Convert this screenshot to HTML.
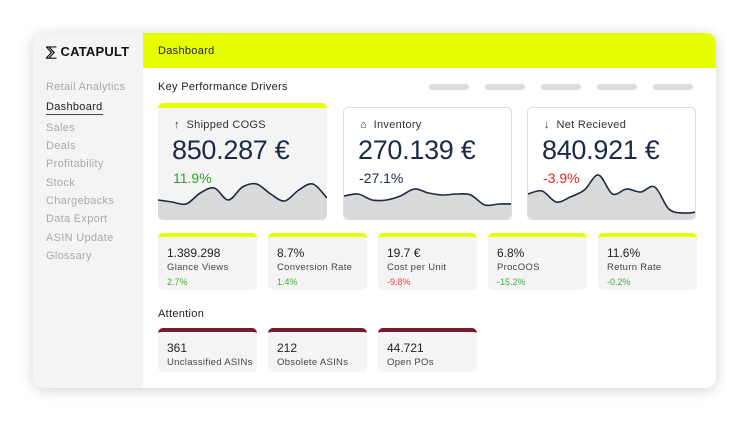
<!DOCTYPE html>
<html><head><meta charset="utf-8"><style>
*{box-sizing:border-box;margin:0;padding:0}
body{width:750px;height:422px;background:#fff;font-family:"Liberation Sans",sans-serif;position:relative;overflow:hidden;color:#222}
.abs{position:absolute}
#app{left:33px;top:33px;width:683px;height:355px;border-radius:10px;background:#fff;box-shadow:0 2px 14px rgba(0,0,0,.18);overflow:hidden}
#side{left:0;top:0;width:110px;height:355px;background:#f4f4f4}
#hdr{left:110px;top:0;width:573px;height:35px;background:#e5ff00}
.nav{position:absolute;left:13px;font-size:11px;color:#aaa;letter-spacing:.3px}
.kpi{position:absolute;top:74px;width:169px;height:113px;border-radius:5px;overflow:hidden}
.kpi .t{position:absolute;left:16px;top:11px;font-size:11px;color:#333;letter-spacing:.3px}
.kpi .v{position:absolute;left:14px;top:27px;font-size:27px;color:#1c2a48;letter-spacing:-.3px}
.kpi .p{position:absolute;left:15px;top:62px;font-size:14px}
.sm{position:absolute;width:99px;background:#f4f4f4;border-radius:5px;overflow:hidden}
.sm .v{position:absolute;left:9px;top:9px;font-size:12px;color:#222}
.sm .l{position:absolute;left:9px;top:25px;font-size:9.5px;color:#444;letter-spacing:.3px}
.sm .p{position:absolute;left:9px;top:40px;font-size:9px}
.pill{position:absolute;top:51px;width:40px;height:6px;border-radius:3px;background:#ddd}
</style></head><body>
<div id="app" class="abs">
 <div id="side" class="abs">
  <div class="abs" style="left:13px;top:11px;font-size:13px;font-weight:bold;color:#111;letter-spacing:.2px">⅀ CATAPULT</div>
  <div class="nav" style="top:48px">Retail Analytics</div>
  <div class="nav" style="top:68px;color:#222;border-bottom:1px solid #444;padding-bottom:1px">Dashboard</div>
  <div class="nav" style="top:89px">Sales</div>
  <div class="nav" style="top:107px">Deals</div>
  <div class="nav" style="top:125px">Profitability</div>
  <div class="nav" style="top:144px">Stock</div>
  <div class="nav" style="top:162px">Chargebacks</div>
  <div class="nav" style="top:180px">Data Export</div>
  <div class="nav" style="top:199px">ASIN Update</div>
  <div class="nav" style="top:217px">Glossary</div>
 </div>
 <div id="hdr" class="abs"><div class="abs" style="left:15px;top:12px;font-size:11px;color:#222;letter-spacing:.3px">Dashboard</div></div>
 <div class="abs" style="left:125px;top:48px;font-size:11px;color:#222;letter-spacing:.3px">Key Performance Drivers</div>
 <div class="pill" style="left:396px"></div>
 <div class="pill" style="left:452px"></div>
 <div class="pill" style="left:508px"></div>
 <div class="pill" style="left:564px"></div>
 <div class="pill" style="left:620px"></div>

 <div class="kpi" style="left:125px;top:70px;height:117px;background:#f4f4f4;border-top:5px solid #e5ff00">
  <div class="t">↑&nbsp; Shipped COGS</div>
  <div class="v">850.287 €</div>
  <div class="p" style="color:#2aa52a">11.9%</div>
  <svg id="sp0" class="abs" style="left:0;bottom:0" width="169" height="50"></svg>
 </div>
 <div class="kpi" style="left:310px;border:1px solid #ddd;background:#fff">
  <div class="t">⌂&nbsp; Inventory</div>
  <div class="v">270.139 €</div>
  <div class="p" style="color:#1c2a48">-27.1%</div>
  <svg id="sp1" class="abs" style="left:0;bottom:0" width="169" height="50"></svg>
 </div>
 <div class="kpi" style="left:494px;border:1px solid #ddd;background:#fff">
  <div class="t">↓&nbsp; Net Recieved</div>
  <div class="v">840.921 €</div>
  <div class="p" style="color:#f01e1e">-3.9%</div>
  <svg id="sp2" class="abs" style="left:0;bottom:0" width="169" height="50"></svg>
 </div>

 <div class="sm" style="left:125px;top:200px;height:57px;border-top:4px solid #e5ff00"><div class="v">1.389.298</div><div class="l">Glance Views</div><div class="p" style="color:#3fae3f">2.7%</div></div>
 <div class="sm" style="left:235px;top:200px;height:57px;border-top:4px solid #e5ff00"><div class="v">8.7%</div><div class="l">Conversion Rate</div><div class="p" style="color:#3fae3f">1.4%</div></div>
 <div class="sm" style="left:345px;top:200px;height:57px;border-top:4px solid #e5ff00"><div class="v">19.7 €</div><div class="l">Cost per Unit</div><div class="p" style="color:#f03a3a">-9.8%</div></div>
 <div class="sm" style="left:455px;top:200px;height:57px;border-top:4px solid #e5ff00"><div class="v">6.8%</div><div class="l">ProcOOS</div><div class="p" style="color:#3fae3f">-15.2%</div></div>
 <div class="sm" style="left:565px;top:200px;height:57px;border-top:4px solid #e5ff00"><div class="v">11.6%</div><div class="l">Return Rate</div><div class="p" style="color:#3fae3f">-0.2%</div></div>

 <div class="abs" style="left:125px;top:275px;font-size:11px;color:#222;letter-spacing:.3px">Attention</div>
 <div class="sm" style="left:125px;top:295px;height:44px;border-top:4px solid #7a1a2e"><div class="v">361</div><div class="l">Unclassified ASINs</div></div>
 <div class="sm" style="left:235px;top:295px;height:44px;border-top:4px solid #7a1a2e"><div class="v">212</div><div class="l">Obsolete ASINs</div></div>
 <div class="sm" style="left:345px;top:295px;height:44px;border-top:4px solid #7a1a2e"><div class="v">44.721</div><div class="l">Open POs</div></div>
</div>
<script>
const cogsValues=[20,18,16,27,32,20,33,36,26,19,30,36,22];
const inventoryValues=[23,25,19,19,23,30,26,24,25,24,14,15,15];
const netReceivedValues=[25,28,17,22,29,44,25,30,27,32,10,6,7];
const series=[cogsValues,inventoryValues,netReceivedValues];
const W=169,H=50,maxV=50;
function xs(i,n){return i*W/(n-1);}
function ys(v){return H-v*H/maxV;}
function pathFor(vals){
 const p=vals.map((v,i)=>[xs(i,vals.length),ys(v)]);
 let d=`M${p[0][0]},${p[0][1]}`;
 for(let i=0;i<p.length-1;i++){
  const p0=p[Math.max(0,i-1)],p1=p[i],p2=p[i+1],p3=p[Math.min(p.length-1,i+2)];
  const c1x=p1[0]+(p2[0]-p0[0])/6,c1y=p1[1]+(p2[1]-p0[1])/6;
  const c2x=p2[0]-(p3[0]-p1[0])/6,c2y=p2[1]-(p3[1]-p1[1])/6;
  d+=` C${c1x},${c1y} ${c2x},${c2y} ${p2[0]},${p2[1]}`;
 }
 return d;
}
const NS="http://www.w3.org/2000/svg";
series.forEach((vals,k)=>{
 const svg=document.getElementById('sp'+k);
 const d=pathFor(vals);
 const a=document.createElementNS(NS,'path');
 a.setAttribute('d',d+` L${W},${H} L0,${H} Z`);
 a.setAttribute('fill','#d9d9d9');
 
 
 svg.appendChild(a);
 const l=document.createElementNS(NS,'path');
 l.setAttribute('d',d);
 l.setAttribute('fill','none');
 l.setAttribute('stroke','#1c2940');
 l.setAttribute('stroke-width','1.6');
 
 
 svg.appendChild(l);
});
</script>
</body></html>
